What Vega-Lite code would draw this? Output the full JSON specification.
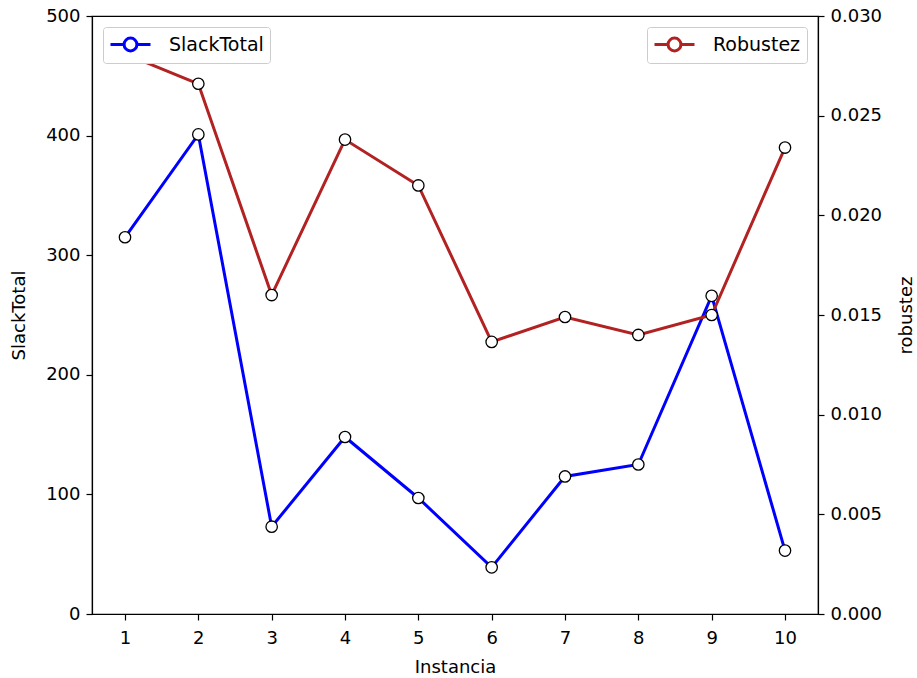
{
  "$schema": "https://vega.github.io/schema/vega-lite/v6.json",
  "width": 726,
  "height": 598,
  "autosize": {"type": "none"},
  "padding": {"left": 92, "top": 16, "right": 99, "bottom": 64},
  "background": "white",
  "config": {
    "font": "DejaVu Sans",
    "view": {"stroke": "black", "strokeWidth": 1.2},
    "axis": {
      "grid": false,
      "domainColor": "black",
      "domainWidth": 1.2,
      "tickColor": "black",
      "tickWidth": 1.2,
      "tickSize": 6,
      "labelFontSize": 18,
      "titleFontSize": 18,
      "labelColor": "black",
      "titleColor": "black",
      "titleFontWeight": "normal",
      "labelFont": "DejaVu Sans",
      "titleFont": "DejaVu Sans",
      "labelPadding": 6
    },
    "legend": {
      "labelFontSize": 19,
      "labelFont": "DejaVu Sans",
      "labelColor": "black",
      "strokeColor": "#cccccc",
      "fillColor": "white",
      "cornerRadius": 3,
      "padding": 6,
      "symbolSize": 400,
      "symbolStrokeWidth": 3,
      "symbolFillColor": "white",
      "symbolType": "M-1,0H0.36M1.64,0H3M0.36,0A0.64,0.64,0,1,1,1.64,0A0.64,0.64,0,1,1,0.36,0",
      "labelOffset": 37,
      "title": null
    }
  },
  "data": {
    "values": [
      {"Instancia": 1, "SlackTotal": 315, "robustez": 0.0281},
      {"Instancia": 2, "SlackTotal": 401, "robustez": 0.0266},
      {"Instancia": 3, "SlackTotal": 73, "robustez": 0.0160},
      {"Instancia": 4, "SlackTotal": 148, "robustez": 0.0238},
      {"Instancia": 5, "SlackTotal": 97, "robustez": 0.0215},
      {"Instancia": 6, "SlackTotal": 39, "robustez": 0.01365},
      {"Instancia": 7, "SlackTotal": 115, "robustez": 0.0149},
      {"Instancia": 8, "SlackTotal": 125, "robustez": 0.0140},
      {"Instancia": 9, "SlackTotal": 266, "robustez": 0.0150},
      {"Instancia": 10, "SlackTotal": 53, "robustez": 0.0234}
    ]
  },
  "encoding": {
    "x": {
      "field": "Instancia",
      "type": "quantitative",
      "scale": {"domain": [0.55, 10.45], "nice": false, "zero": false},
      "axis": {"values": [1,2,3,4,5,6,7,8,9,10], "format": "d", "title": "Instancia", "labelPadding": 9, "titlePadding": 11}
    }
  },
  "layer": [
    {
      "encoding": {
        "y": {
          "field": "SlackTotal",
          "type": "quantitative",
          "scale": {"domain": [0, 500], "nice": false},
          "axis": {"orient": "left", "values": [0,100,200,300,400,500], "title": "SlackTotal", "titlePadding": 17}
        }
      },
      "layer": [
        {
          "mark": {"type": "line", "strokeWidth": 3},
          "encoding": {
            "color": {
              "datum": "SlackTotal",
              "scale": {"domain": ["SlackTotal"], "range": ["#0000ff"]},
              "legend": {"orient": "top-left", "offset": 11}
            }
          }
        },
        {
          "mark": {"type": "point", "filled": true, "fill": "white", "stroke": "black", "strokeWidth": 1.3, "size": 130, "opacity": 1}
        }
      ]
    },
    {
      "encoding": {
        "y": {
          "field": "robustez",
          "type": "quantitative",
          "scale": {"domain": [0, 0.03], "nice": false},
          "axis": {"orient": "right", "values": [0,0.005,0.01,0.015,0.02,0.025,0.03], "format": ".3f", "title": "robustez", "titleAngle": 270, "titlePadding": 34}
        }
      },
      "layer": [
        {
          "mark": {"type": "line", "strokeWidth": 3},
          "encoding": {
            "color": {
              "datum": "Robustez",
              "scale": {"domain": ["Robustez"], "range": ["#b22222"]},
              "legend": {"orient": "top-right", "offset": 11}
            }
          }
        },
        {
          "mark": {"type": "point", "filled": true, "fill": "white", "stroke": "black", "strokeWidth": 1.3, "size": 130, "opacity": 1}
        }
      ]
    }
  ],
  "resolve": {"scale": {"y": "independent", "color": "independent"}}
}
